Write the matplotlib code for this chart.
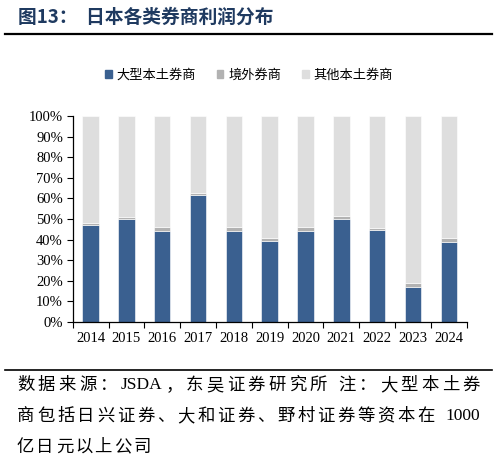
import matplotlib
matplotlib.use("Agg")
import matplotlib.pyplot as plt
import numpy as np
from matplotlib.ticker import FuncFormatter
from matplotlib.lines import Line2D
import re

years = ["2014", "2015", "2016", "2017", "2018", "2019", "2020", "2021", "2022", "2023", "2024"]
large_domestic = [47.0, 50.0, 44.2, 61.6, 44.0, 39.2, 44.1, 50.0, 44.5, 17.0, 39.0]
foreign = [1.2, 0.8, 2.0, 1.0, 2.0, 1.8, 1.9, 1.6, 1.3, 2.0, 2.0]
other_domestic = [100 - a - b for a, b in zip(large_domestic, foreign)]
series_names = ["大型本土券商", "境外券商", "其他本土券商"]
colors = ["#3A6090", "#B2B2B2", "#DEDEDE"]

title = "图13：  日本各类券商利润分布"
footnote = ["数据来源：JSDA，东吴证券研究所 注：大型本土券",
            "商包括日兴证券、大和证券、野村证券等资本在 1000",
            "亿日元以上公司"]

W, H = 498, 463
fig = plt.figure(figsize=(W / 100, H / 100), dpi=100)
fams = ["Liberation Serif", "Noto Sans CJK SC"]
cjk = ["Noto Sans CJK SC", "Liberation Serif"]

ax = fig.add_axes([72.7 / W, 1 - 322 / H, 394 / W, 206 / H])
x = np.arange(len(years))
series = [large_domestic, foreign, other_domestic]
bottom = np.zeros(len(years))
for vals, c, name in zip(series, colors, series_names):
    ax.bar(x, vals, width=0.46, bottom=bottom, color=c, label=name,
           edgecolor="white", linewidth=0.4)
    bottom += np.array(vals)

ax.set_xlim(-0.5, len(years) - 0.5)
ax.set_ylim(0, 100)
ax.set_yticks(np.arange(0, 101, 10))
ax.yaxis.set_major_formatter(FuncFormatter(lambda v, p: f"{int(v)}%"))
ax.set_xticks(x)
ax.set_xticklabels(years)
ax.set_xticks(np.arange(-0.5, len(years), 1), minor=True)
ax.tick_params(axis="x", which="major", length=0, pad=7)
ax.tick_params(axis="x", which="minor", length=4, direction="out", width=0.8)
ax.tick_params(axis="y", length=4, direction="out", width=0.8, pad=3)
for lab in ax.get_xticklabels() + ax.get_yticklabels():
    lab.set_family(fams)
    lab.set_fontsize(10.5)
for s in ["top", "right"]:
    ax.spines[s].set_visible(False)
for s in ["left", "bottom"]:
    ax.spines[s].set_color("black")
    ax.spines[s].set_linewidth(0.9)

handles = [plt.Rectangle((0, 0), 1, 1, color=c) for c in colors]
leg = fig.legend(handles, series_names, loc="center", bbox_to_anchor=(0.5, 1 - 75 / H),
                 ncol=3, frameon=False, handlelength=0.5, handleheight=0.5,
                 handletextpad=0.35, columnspacing=1.6,
                 prop={"family": cjk, "size": 9.5})

fig.text(18 / W, 1 - 17 / H, title, ha="left", va="center", fontsize=13.5,
         fontweight="bold", color="#1F3A60", family=cjk)
fig.add_artist(Line2D([5 / W, 492 / W], [1 - 34 / H, 1 - 34 / H], color="black", lw=1.6))
fig.add_artist(Line2D([5 / W, 492 / W], [1 - 370 / H, 1 - 370 / H], color="black", lw=1.2))

# footnote laid out token by token to mimic the justified text
renderer = fig.canvas.get_renderer()
foot_size = 12.5
x0, x1 = 17, 480
ys = [385, 416, 447]
for i, line in enumerate(footnote):
    tokens = re.findall(r"[A-Za-z0-9]+| |.", line)
    widths, tfams = [], []
    for t in tokens:
        f = fams if re.match(r"[A-Za-z0-9]", t) else cjk
        tfams.append(f)
        if t == " ":
            widths.append(5.0)
            continue
        tt = fig.text(0, 0, t, fontsize=foot_size, family=f)
        widths.append(tt.get_window_extent(renderer).width)
        tt.remove()
    natural = sum(widths)
    if i < len(footnote) - 1:
        gap = (x1 - x0 - natural) / (len(tokens) - 1)
    else:
        gap = 2.0
    cx = x0
    for t, w, f in zip(tokens, widths, tfams):
        if t != " ":
            fig.text(cx / W, 1 - ys[i] / H, t, ha="left", va="center",
                     fontsize=foot_size, color="black", family=f)
        cx += w + gap

fig.savefig("out.png", dpi=100)
